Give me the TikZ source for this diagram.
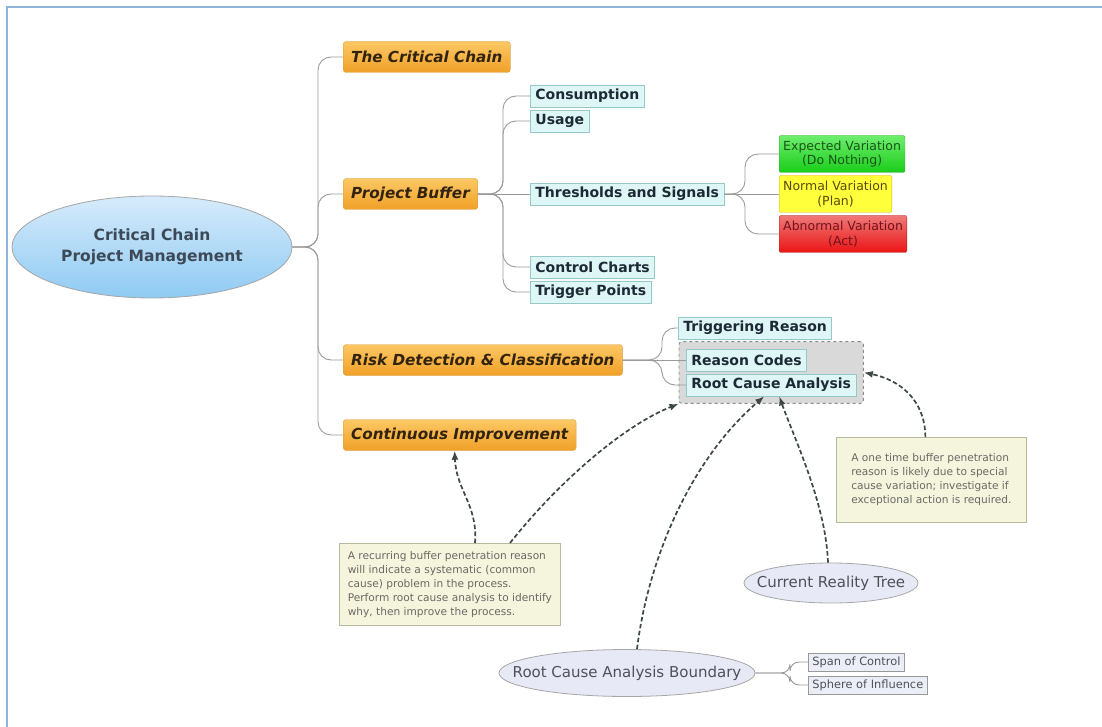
\documentclass[tikz,border=0pt]{standalone}
\usepackage{fontspec}
\setmainfont{DejaVu Sans}
\usetikzlibrary{shapes.geometric,arrows.meta,fit,backgrounds}

\definecolor{framecol}{HTML}{8EB4DC}
\definecolor{treecol}{HTML}{9A9A9A}
\definecolor{arrowcol}{HTML}{3E4646}

\begin{document}
\begin{tikzpicture}[x=1pt,y=-1pt,
  tree/.style={draw=treecol, line width=0.9pt, rounded corners=13pt},
  dasharrow/.style={draw=arrowcol, line width=1.7pt, dash pattern=on 4.5pt off 2.5pt,
    -{Latex[length=9pt,width=7pt]}},
  rootnode/.style={ellipse, draw=black!35, line width=0.8pt,
    top color={rgb,255:red,214;green,235;blue,251}, bottom color={rgb,255:red,143;green,202;blue,243},
    minimum width=280pt, minimum height=102pt, inner sep=0pt, align=center,
    text={rgb,255:red,60;green,74;blue,88},
    font=\fontsize{15.5}{21}\selectfont\bfseries},
  topic/.style={rectangle, rounded corners=3pt, draw={rgb,255:red,214;green,160;blue,70},
    top color={rgb,255:red,252;green,200;blue,100}, bottom color={rgb,255:red,240;green,160;blue,40},
    minimum height=31pt, inner xsep=8pt, anchor=west,
    text={rgb,255:red,50;green,35;blue,15},
    font=\fontsize{15.2}{17}\selectfont\bfseries\itshape},
  sub/.style={rectangle, draw={rgb,255:red,150;green,200;blue,200}, line width=0.8pt,
    fill={rgb,255:red,222;green,246;blue,246}, minimum height=22pt, inner xsep=5pt, anchor=west,
    text={rgb,255:red,28;green,42;blue,53},
    font=\fontsize{14}{16}\selectfont\bfseries},
  signal/.style={rectangle, rounded corners=2pt, minimum height=37pt, inner xsep=4pt,
    anchor=west, align=center, font=\fontsize{12.5}{14.5}\selectfont},
  note/.style={rectangle, draw={rgb,255:red,185;green,185;blue,160}, line width=0.8pt,
    fill={rgb,255:red,245;green,245;blue,222}, anchor=north west, align=left,
    inner xsep=6pt, inner ysep=0pt, text={rgb,255:red,105;green,105;blue,100},
    font=\fontsize{10.6}{14}\selectfont},
  bubble/.style={ellipse, draw=black!35, line width=0.8pt,
    fill={rgb,255:red,231;green,233;blue,246}, inner sep=0pt,
    text={rgb,255:red,80;green,80;blue,90}, font=\fontsize{15}{17}\selectfont},
  tag/.style={rectangle, draw=black!40, line width=0.7pt,
    fill={rgb,255:red,236;green,238;blue,247}, minimum height=17pt, inner xsep=4pt,
    anchor=west, text={rgb,255:red,80;green,80;blue,90},
    font=\fontsize{11.4}{13}\selectfont},
  grouping/.style={rectangle, rounded corners=3pt, draw=black!45, dashed, line width=0.9pt,
    fill={rgb,255:red,217;green,217;blue,217}, inner xsep=7pt, inner ysep=7pt}
]
\useasboundingbox (0,0) rectangle (1102,727);

% window frame
\draw[framecol, line width=2pt] (7,727) -- (7,7) -- (1102,7);

% central topic
\node[rootnode] (root) at (152,247) {Critical Chain\\Project Management};

% main topics
\node[topic] (crit) at (343,57)  {The Critical Chain};
\node[topic] (pb)   at (343,194) {Project Buffer};
\node[topic] (risk) at (343,360) {Risk Detection \& Classification};
\node[topic] (ci)   at (343,435) {Continuous Improvement};

\draw[tree] (root.east) -- (318,247) |- (crit.west);
\draw[tree] (root.east) -- (318,247) |- (pb.west);
\draw[tree] (root.east) -- (318,247) |- (risk.west);
\draw[tree] (root.east) -- (318,247) |- (ci.west);

% project buffer subtopics
\node[sub] (cons) at (530,96)  {Consumption};
\node[sub] (use)  at (530,121) {Usage};
\node[sub] (th)   at (530,194) {Thresholds and Signals};
\node[sub] (cc)   at (530,267) {Control Charts};
\node[sub] (tp)   at (530,292) {Trigger Points};

\draw[tree] (pb.east) -- (503,194) |- (cons.west);
\draw[tree] (pb.east) -- (503,194) |- (use.west);
\draw[tree] (pb.east) -- (th.west);
\draw[tree] (pb.east) -- (503,194) |- (cc.west);
\draw[tree] (pb.east) -- (503,194) |- (tp.west);

% signal levels
\node[signal, draw={rgb,255:red,60;green,170;blue,60},
  top color={rgb,255:red,110;green,238;blue,110}, bottom color={rgb,255:red,25;green,205;blue,25},
  text={rgb,255:red,25;green,85;blue,25}] (exp) at (779,154) {Expected Variation\\(Do Nothing)};
\node[signal, draw={rgb,255:red,200;green,180;blue,40},
  fill={rgb,255:red,255;green,255;blue,60},
  text={rgb,255:red,90;green,75;blue,10}] (norm) at (779,194) {Normal Variation\\(Plan)};
\node[signal, draw={rgb,255:red,170;green,40;blue,40},
  top color={rgb,255:red,240;green,120;blue,120}, bottom color={rgb,255:red,235;green,20;blue,20},
  text={rgb,255:red,110;green,20;blue,30}] (abn) at (779,234) {Abnormal Variation\\(Act)};

\draw[tree] (th.east) -- (745,194) |- (exp.west);
\draw[tree] (th.east) -- (norm.west);
\draw[tree] (th.east) -- (745,194) |- (abn.west);

% risk detection subtopics
\node[sub] (trig) at (678,328) {Triggering Reason};
\node[sub] (rc)   at (686,360) {Reason Codes};
\node[sub] (rca)  at (686,385) {Root Cause Analysis};
\begin{scope}[on background layer]
  \node[grouping, fit=(rc)(rca)] (grp) {};
\end{scope}

\draw[tree] (risk.east) -- (662,360) |- (trig.west);
\draw[tree] (risk.east) -- (rc.west);
\draw[tree] (risk.east) -- (662,360) |- (rca.west);

% callouts
\node[note, minimum width=221pt, minimum height=82pt] (recur) at (339,543)
  {A recurring buffer penetration reason\\will indicate a systematic (common\\cause) problem in the process.\\Perform root cause analysis to identify\\why, then improve the process.};
\node[note, minimum width=190pt, minimum height=85pt] (once) at (836,437)
  {A one time buffer penetration\\reason is likely due to special\\cause variation; investigate if\\exceptional action is required.};

% floating topics
\node[bubble, minimum width=174pt, minimum height=40pt] (crt) at (831,583)
  {\makebox[0pt]{Current Reality Tree}};
\node[bubble, minimum width=256pt, minimum height=47pt] (rcab) at (627,673)
  {\makebox[0pt]{Root Cause Analysis Boundary}};
\node[tag] (span) at (808,662) {Span of Control};
\node[tag] (sph)  at (808,685) {Sphere of Influence};

\draw[tree, rounded corners=9pt] (rcab.east) -- (790,673) |- (span.west);
\draw[tree, rounded corners=9pt] (rcab.east) -- (790,673) |- (sph.west);

% relationship arrows
\draw[dasharrow] ([xshift=136pt]recur.north west) .. controls (478,505) and (456,490) .. ([xshift=-5pt]ci.south);
\draw[dasharrow] ([xshift=171pt]recur.north west) .. controls (560,480) and (625,425) .. (grp.south west);
\draw[dasharrow] ([xshift=10pt]rcab.north) .. controls (648,560) and (690,460) .. ([xshift=-7pt]rca.south);
\draw[dasharrow] ([xshift=-3pt]crt.north) .. controls (826,505) and (795,440) .. ([xshift=8pt]rca.south);
\draw[dasharrow] ([xshift=-6pt]once.north) .. controls (925,400) and (900,380) .. (grp.east);
\end{tikzpicture}
\end{document}
